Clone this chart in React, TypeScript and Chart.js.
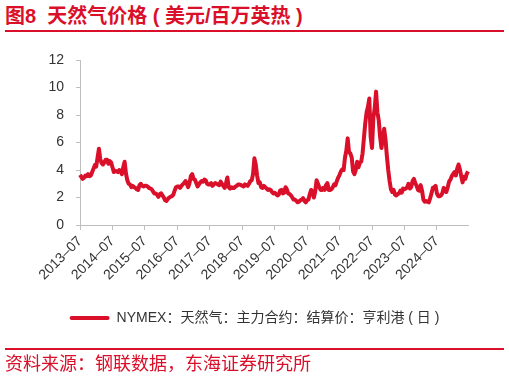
import React, { useEffect, useRef } from "react";
import { Chart, registerables } from "chart.js";

Chart.register(...registerables);

// Half-monthly settlement prices (USD/MMBtu), 2013-07 .. 2025-06
const prices2013 = [3.65, 3.5, 3.35, 3.45, 3.6, 3.55, 3.7, 3.55, 3.6, 3.85, 4.1, 4.35];
const prices2014 = [4.25, 4.9, 5.55, 4.8, 4.5, 4.4, 4.55, 4.75, 4.75, 4.45, 4.65, 4.55, 4.2, 3.85, 3.95, 3.9, 3.85, 4.0, 3.9, 3.7, 4.2, 4.6, 3.75, 3.25];
const prices2015 = [3.0, 2.95, 2.75, 2.85, 2.75, 2.7, 2.6, 2.55, 2.9, 3.0, 2.85, 2.8, 2.85, 2.85, 2.8, 2.7, 2.65, 2.6, 2.45, 2.3, 2.3, 2.2, 2.05, 2.25];
const prices2016 = [2.3, 2.15, 2.0, 1.8, 1.75, 1.9, 2.0, 2.05, 2.1, 2.2, 2.5, 2.75, 2.8, 2.8, 2.7, 2.85, 2.95, 3.05, 3.2, 3.0, 2.75, 3.05, 3.55, 3.7];
const prices2017 = [3.35, 3.3, 3.05, 2.8, 2.95, 3.1, 3.2, 3.15, 3.3, 3.25, 3.0, 2.95, 2.95, 3.05, 2.85, 2.95, 3.05, 3.0, 2.95, 2.9, 3.15, 3.0, 2.85, 2.7];
const prices2018 = [3.05, 3.45, 2.75, 2.65, 2.75, 2.7, 2.7, 2.8, 2.85, 2.95, 2.95, 2.9, 2.85, 2.8, 2.95, 2.9, 2.85, 3.0, 3.2, 3.25, 3.7, 4.85, 4.4, 3.6];
const prices2019 = [3.05, 3.1, 2.75, 2.7, 2.85, 2.75, 2.65, 2.55, 2.6, 2.55, 2.4, 2.3, 2.35, 2.25, 2.15, 2.2, 2.5, 2.55, 2.3, 2.35, 2.75, 2.6, 2.3, 2.25];
const prices2020 = [2.15, 2.0, 1.85, 1.85, 1.75, 1.65, 1.7, 1.8, 1.85, 1.95, 1.75, 1.65, 1.8, 1.85, 2.25, 2.55, 2.4, 2.0, 2.45, 3.25, 3.0, 2.75, 2.55, 2.55];
const prices2021 = [2.7, 2.55, 2.9, 3.05, 2.55, 2.55, 2.6, 2.75, 2.95, 2.9, 3.2, 3.45, 3.65, 3.9, 4.05, 4.0, 4.9, 5.4, 6.3, 5.3, 5.2, 4.9, 3.9, 3.7];
const prices2022 = [4.0, 4.6, 4.2, 4.55, 4.6, 5.2, 6.3, 7.4, 8.2, 8.6, 9.2, 6.4, 5.6, 7.8, 8.5, 9.7, 8.2, 7.6, 6.4, 5.6, 6.3, 7.0, 6.2, 5.0];
const prices2023 = [4.0, 3.2, 2.6, 2.4, 2.55, 2.2, 2.15, 2.25, 2.3, 2.5, 2.35, 2.65, 2.6, 2.65, 2.75, 3.0, 2.65, 2.75, 3.2, 3.35, 3.05, 2.85, 2.55, 2.5];
const prices2024 = [2.9, 2.5, 1.85, 1.7, 1.75, 1.7, 1.65, 1.95, 2.3, 2.7, 2.75, 2.85, 2.3, 2.1, 2.1, 2.15, 2.3, 2.7, 2.6, 2.4, 2.75, 3.15, 3.3, 3.55];
const prices2025 = [3.7, 3.85, 3.6, 4.1, 4.4, 4.05, 3.55, 3.1, 3.5, 3.35, 3.7, 3.9];

const prices = [
  ...prices2013, ...prices2014, ...prices2015, ...prices2016, ...prices2017, ...prices2018,
  ...prices2019, ...prices2020, ...prices2021, ...prices2022, ...prices2023, ...prices2024, ...prices2025,
];

const tickLabels = [
  "2013–07", "2014–07", "2015–07", "2016–07", "2017–07", "2018–07",
  "2019–07", "2020–07", "2021–07", "2022–07", "2023–07", "2024–07",
];

const seriesName = "NYMEX：天然气：主力合约：结算价：亨利港 ( 日 )";
const titleText = "图8\u00a0\u00a0天然气价格 ( 美元/百万英热 )";
const sourceText = "资料来源：钢联数据，东海证券研究所";

// category labels: two per month starting 2013-07
const categories: string[] = [];
for (let i = 0; i < prices.length; i++) {
  const m = Math.floor(i / 2);
  const y = 2013 + Math.floor((6 + m) / 12);
  const mo = ((6 + m) % 12) + 1;
  categories.push(`${y}-${String(mo).padStart(2, "0")}-${i % 2 === 0 ? "01" : "16"}`);
}

const RED = "#DA0F2A";
const FONT = "'Liberation Sans', 'Noto Sans CJK SC', sans-serif";

export default function App() {
  const ref = useRef<HTMLCanvasElement>(null);
  useEffect(() => {
    if (!ref.current) return;
    const chart = new Chart(ref.current, {
      type: "line",
      data: {
        labels: categories,
        datasets: [
          {
            label: seriesName,
            data: prices,
            borderColor: RED,
            backgroundColor: RED,
            borderWidth: 4,
            pointRadius: 0,
            tension: 0,
            borderJoinStyle: "round",
            yAxisID: "y",
          },
        ],
      },
      options: {
        responsive: false,
        animation: false,
        devicePixelRatio: 1,
        layout: { padding: { left: 0, right: 0, top: 60, bottom: 42 } },
        plugins: {
          tooltip: { enabled: false },
          legend: {
            position: "bottom",
            labels: {
              boxWidth: 40,
              boxHeight: 4,
              padding: 10,
              color: "#333333",
              font: { family: FONT, size: 14 },
              useBorderRadius: true,
              borderRadius: 2,
              generateLabels: (c: any) =>
                (Chart.defaults.plugins.legend.labels.generateLabels as any)(c).map((l: any) => ({
                  ...l,
                  lineWidth: 0,
                  fillStyle: RED,
                })),
            },
          },
        },
        scales: {
          x: {
            type: "category",
            grid: { drawOnChartArea: false, drawTicks: true, tickLength: 5, color: "#bfbfbf" },
            border: { color: "#bfbfbf", width: 1 },
            ticks: {
              autoSkip: false,
              maxRotation: 45,
              minRotation: 45,
              color: "#333333",
              font: { family: FONT, size: 14 },
              callback: (_v: any, idx: number) => (idx % 24 === 0 ? tickLabels[idx / 24] : null),
            },
            afterFit: (s: any) => {
              s.height = 76;
            },
          },
          y: {
            min: 0,
            max: 12,
            grid: { drawOnChartArea: false, drawTicks: true, tickLength: 4, color: "#bfbfbf" },
            border: { color: "#bfbfbf", width: 1 },
            ticks: {
              stepSize: 2,
              padding: 12,
              color: "#333333",
              font: { family: FONT, size: 14 },
            },
            afterFit: (s: any) => {
              s.width = 80;
            },
          },
          spacer: {
            position: "right",
            grid: { display: false },
            border: { display: false },
            ticks: { display: false },
            afterFit: (s: any) => {
              s.width = 41;
            },
          },
        },
      },
    });
    return () => chart.destroy();
  }, []);

  return (
    <div style={{ position: "fixed", left: 0, top: 0, width: 509, height: 377, background: "#fff", fontFamily: FONT }}>
      <div
        style={{
          position: "absolute",
          left: 5,
          top: 6,
          fontSize: 20,
          lineHeight: "20px",
          fontWeight: "bold",
          color: RED,
          whiteSpace: "pre",
        }}
      >
        {titleText}
      </div>
      <div style={{ position: "absolute", left: 5, top: 30, width: 499, height: 2, background: RED }} />
      <canvas ref={ref} width={509} height={377} style={{ position: "absolute", left: 0, top: 0 }} />
      <div style={{ position: "absolute", left: 5, top: 348, width: 499, height: 2, background: RED }} />
      <div
        style={{
          position: "absolute",
          left: 5,
          top: 355,
          fontSize: 18,
          lineHeight: "18px",
          color: RED,
          whiteSpace: "nowrap",
        }}
      >
        {sourceText}
      </div>
    </div>
  );
}
